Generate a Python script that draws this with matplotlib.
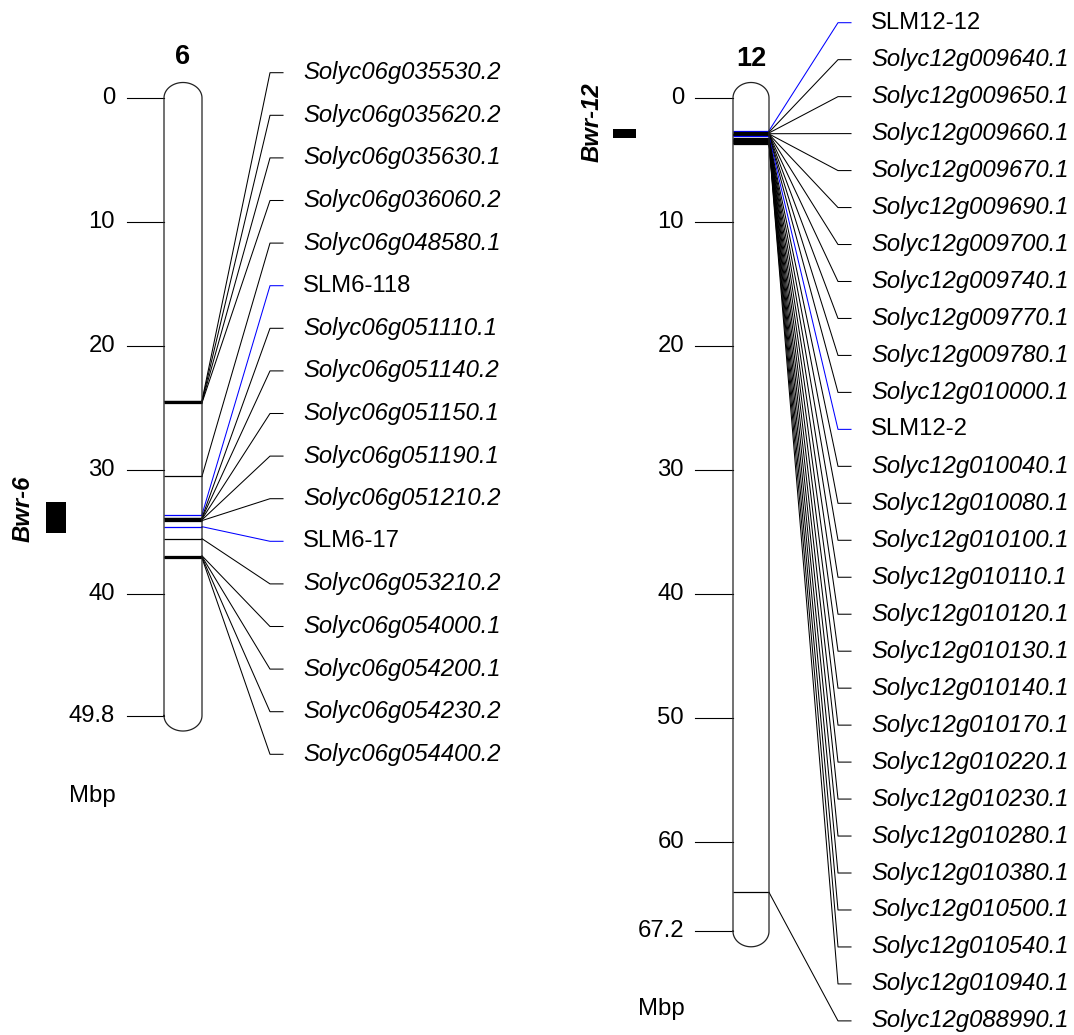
import numpy as np
import matplotlib
matplotlib.use('Agg')
import matplotlib.pyplot as plt

plt.rcParams['font.family'] = ['Liberation Sans', 'DejaVu Sans']

# chromosome 6 data
chr6_length = 49.8
chr6_ticks = [0, 10, 20, 30, 40, 49.8]
chr6_names = ['Solyc06g035530.2', 'Solyc06g035620.2', 'Solyc06g035630.1', 'Solyc06g036060.2',
              'Solyc06g048580.1', 'SLM6-118', 'Solyc06g051110.1', 'Solyc06g051140.2',
              'Solyc06g051150.1', 'Solyc06g051190.1', 'Solyc06g051210.2', 'SLM6-17',
              'Solyc06g053210.2', 'Solyc06g054000.1', 'Solyc06g054200.1', 'Solyc06g054230.2',
              'Solyc06g054400.2']
chr6_pos = [24.40, 24.46, 24.52, 24.58, 30.50, 33.60, 33.84, 33.90, 33.96, 34.02, 34.08,
            34.57, 35.54, 36.92, 36.98, 37.04, 37.10]
bwr6 = (32.6, 35.1)

# chromosome 12 data
chr12_length = 67.2
chr12_ticks = [0, 10, 20, 30, 40, 50, 60, 67.2]
chr12_names = ['SLM12-12', 'Solyc12g009640.1', 'Solyc12g009650.1', 'Solyc12g009660.1',
               'Solyc12g009670.1', 'Solyc12g009690.1', 'Solyc12g009700.1', 'Solyc12g009740.1',
               'Solyc12g009770.1', 'Solyc12g009780.1', 'Solyc12g010000.1', 'SLM12-2',
               'Solyc12g010040.1', 'Solyc12g010080.1', 'Solyc12g010100.1', 'Solyc12g010110.1',
               'Solyc12g010120.1', 'Solyc12g010130.1', 'Solyc12g010140.1', 'Solyc12g010170.1',
               'Solyc12g010220.1', 'Solyc12g010230.1', 'Solyc12g010280.1', 'Solyc12g010380.1',
               'Solyc12g010500.1', 'Solyc12g010540.1', 'Solyc12g010940.1', 'Solyc12g088990.1']
chr12_pos = [2.64, 2.76, 2.82, 2.88, 2.90, 2.92, 2.94, 2.96, 2.98, 3.00, 3.02, 3.10,
             3.26, 3.29, 3.32, 3.35, 3.38, 3.41, 3.44, 3.47, 3.50, 3.53, 3.56, 3.59,
             3.62, 3.65, 3.72, 64.06]
bwr12 = (2.53, 3.26)

# レイアウト (x はピクセル, y は Mbp)
W, H = 1074, 1035
PX = 12.4      # px per Mbp
TOP = 98       # 0 Mbp の位置 (px)
FS = 17.2


def px2mbp(y):
    return (y - TOP) / PX


fig = plt.figure(figsize=(W / 100, H / 100), dpi=100)
ax = fig.add_axes([0, 0, 1, 1])
ax.set_xlim(0, W)
ax.set_ylim(px2mbp(H), px2mbp(0))
ax.axis('off')


def draw_chrom(name, length, ticks, names, pos, bwr, lay):
    xl, xr = lay['xl'], lay['xr']
    xc = (xl + xr) / 2
    rx = (xr - xl) / 2
    ry = 1.25
    # 外形 (上下は半楕円)
    t = np.linspace(np.pi, 0, 40)
    ox = np.concatenate([[xl], xc + rx * np.cos(t), [xr, xr], xc - rx * np.cos(t), [xl]])
    oy = np.concatenate([[length], -ry * np.sin(t), [0, length], length + ry * np.sin(t), [length]])
    ax.fill(ox, oy, color='white', zorder=1)

    # バンド
    for n, p in zip(names, pos):
        c = 'blue' if n.startswith('SLM') else 'black'
        ax.plot([xl, xr], [p, p], color=c, lw=0.9, zorder=2, solid_capstyle='butt')

    ax.plot(ox, oy, color='#222222', lw=0.9, zorder=3)

    # 目盛り
    for tk in ticks:
        ax.plot([lay['tick_x0'], xl], [tk, tk], color='black', lw=0.8)
        ax.text(lay['tick_lab'], tk, f'{tk:g}', ha='right', va='center', fontsize=FS)

    ax.text(xc, px2mbp(lay['title_y']), name, ha='center', va='center',
            fontsize=19.5, fontweight='bold')
    ax.text(lay['mbp_x'], px2mbp(lay['mbp_y']), 'Mbp', ha='center', va='center', fontsize=FS)

    # ラベルと引出し線
    for i, (n, p) in enumerate(zip(names, pos)):
        ly = px2mbp(lay['lab_y0'] + i * lay['lab_dy'])
        c = 'blue' if n.startswith('SLM') else 'black'
        ax.plot([xr, lay['kink_x'], lay['kink_x'] + 13], [p, ly, ly], color=c, lw=0.75, zorder=2)
        style = 'normal' if n.startswith('SLM') else 'italic'
        ax.text(lay['text_x'], ly, n, ha='left', va='center', fontsize=FS, style=style)

    # 抵抗性領域
    ax.fill_between([lay['bwr_x0'], lay['bwr_x1']], bwr[0], bwr[1], color='black', lw=0)
    ax.text(lay['bwr_tx'], px2mbp(lay['bwr_ty']), lay['bwr_name'], rotation=90,
            ha='center', va='center', fontsize=FS, fontweight='bold', style='italic')


lay6 = dict(xl=164, xr=202, tick_x0=127, tick_lab=115, title_y=57, mbp_x=92, mbp_y=796,
            lab_y0=72.7, lab_dy=42.6, kink_x=270, text_x=303,
            bwr_x0=46, bwr_x1=66, bwr_tx=23, bwr_ty=509, bwr_name='Bwr-6')
lay12 = dict(xl=733, xr=769, tick_x0=695, tick_lab=684, title_y=59, mbp_x=661, mbp_y=1009,
             lab_y0=22.7, lab_dy=36.97, kink_x=838, text_x=871,
             bwr_x0=613, bwr_x1=636, bwr_tx=592, bwr_ty=122, bwr_name='Bwr-12')

draw_chrom('6', chr6_length, chr6_ticks, chr6_names, chr6_pos, bwr6, lay6)
draw_chrom('12', chr12_length, chr12_ticks, chr12_names, chr12_pos, bwr12, lay12)

fig.savefig('out.png', dpi=100, facecolor='white')
